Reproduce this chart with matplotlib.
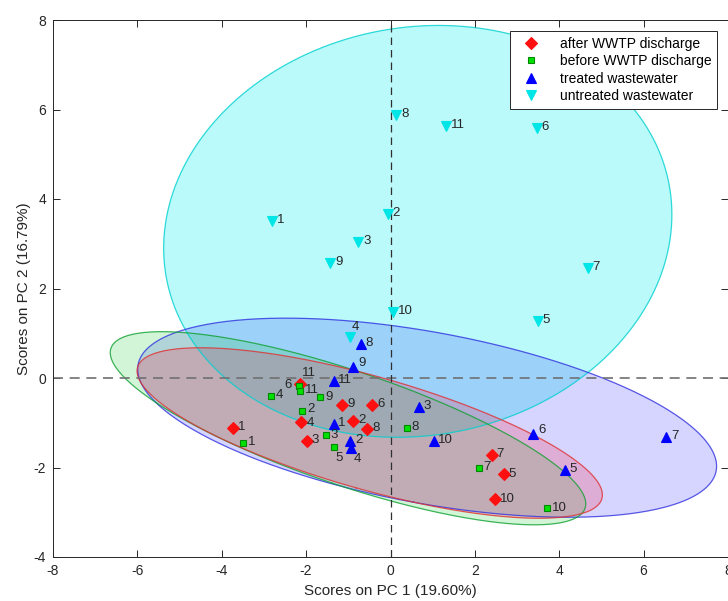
import numpy as np
import matplotlib
matplotlib.use("Agg")
import matplotlib.pyplot as plt

plt.rcParams['font.family'] = ['Liberation Sans', 'DejaVu Sans']

labels = ['1', '2', '3', '4', '5', '6', '7', '8', '9', '10', '11']

after_x = [-3.73, -0.88, -1.99, -2.11, 2.68, -0.43, 2.40, -0.55, -1.14, 2.47, -2.14]
after_y = [-1.12, -0.96, -1.41, -0.98, -2.15, -0.60, -1.72, -1.14, -0.60, -2.71, -0.13]

before_x = [-3.49, -2.09, -1.54, -2.83, -1.35, -2.16, 2.09, 0.38, -1.66, 3.71, -2.14]
before_y = [-1.45, -0.74, -1.28, -0.40, -1.54, -0.18, -2.01, -1.12, -0.43, -2.91, -0.29]

treated_x = [-1.35, -0.95, 0.67, -0.93, 4.13, 3.37, 6.53, -0.71, -0.88, 1.02, -1.35]
treated_y = [-1.03, -1.41, -0.65, -1.57, -2.06, -1.25, -1.32, 0.76, 0.25, -1.41, -0.07]

untreated_x = [-2.80, -0.07, -0.76, -0.97, 3.49, 3.47, 4.68, 0.14, -1.43, 0.05, 1.31]
untreated_y = [3.51, 3.67, 3.04, 0.92, 1.28, 5.59, 2.46, 5.88, 2.57, 1.48, 5.64]

group_names = ['after WWTP discharge', 'before WWTP discharge',
               'treated wastewater', 'untreated wastewater']

x_label = 'Scores on PC 1 (19.60%)'
y_label = 'Scores on PC 2 (16.79%)'
x_ticks = [-8, -6, -4, -2, 0, 2, 4, 6, 8]
y_ticks = [-4, -2, 0, 2, 4, 6, 8]

conf_k = 2.576  # 99% limit scaling

groups = [
    dict(x=after_x, y=after_y, name=group_names[0], marker='D', ms=6,
         face='#ff1010', edge='#ff1010', ecol='#e03030', fill='#ff2040', alpha=0.22),
    dict(x=before_x, y=before_y, name=group_names[1], marker='s', ms=5,
         face='#00e000', edge='#008800', ecol='#10a030', fill='#20d040', alpha=0.2),
    dict(x=treated_x, y=treated_y, name=group_names[2], marker='^', ms=7.5,
         face='#0000ff', edge='#0000ff', ecol='#3030e0', fill='#1818ff', alpha=0.18),
    dict(x=untreated_x, y=untreated_y, name=group_names[3], marker='v', ms=7.5,
         face='#00e5e5', edge='#00e5e5', ecol='#00d0d0', fill='#00f0f0', alpha=0.27),
]

# label offset exceptions (points), keyed by (group index, label)
default_off = (3.5, 0.5)
label_off = {
    (1, '5'): (1.0, -8.0),
    (2, '4'): (1.5, -8.0),
    (1, '6'): (-11.0, 0.5),
    (0, '11'): (1.5, 7.5),
    (3, '4'): (1.5, 7.0),
    (2, '9'): (3.5, 3.0),
    (2, '6'): (4.0, 3.0),
    (1, '2'): (3.5, 1.5),
    (0, '4'): (3.5, -0.8),
}

fig = plt.figure(figsize=(7.28, 6.01), dpi=100)
ax = fig.add_axes([53 / 728, 1 - 557 / 601, 675 / 728, 537 / 601])

t = np.linspace(0, 2 * np.pi, 400)
circle = np.vstack([np.cos(t), np.sin(t)])
# draw order for ellipses
for gi in [3, 2, 1, 0]:
    g = groups[gi]
    pts = np.vstack([g['x'], g['y']])
    mu = pts.mean(axis=1)
    cov = np.cov(pts)
    vals, vecs = np.linalg.eigh(cov)
    L = vecs @ np.diag(np.sqrt(vals)) * conf_k
    e = L @ circle + mu[:, None]
    ax.fill(e[0], e[1], color=g['fill'], alpha=g['alpha'], lw=0, zorder=1)
    ax.plot(e[0], e[1], color=g['ecol'], lw=0.9, alpha=0.8, zorder=1.5)

ax.axhline(0, color='#707070', ls=(0, (6, 4)), lw=1.2, zorder=2)
ax.axvline(0, color='#303030', ls=(0, (6, 4)), lw=0.9, zorder=2)

for gi, g in enumerate(groups):
    ax.plot(g['x'], g['y'], ls='none', marker=g['marker'], ms=g['ms'],
            mfc=g['face'], mec=g['edge'], mew=0.8, label=g['name'], zorder=4)
    for xi, yi, lab in zip(g['x'], g['y'], labels):
        off = label_off.get((gi, lab), default_off)
        ax.annotate(lab, (xi, yi), xytext=off, textcoords='offset points',
                    ha='left', va='center', fontsize=9.5, color='#262626', zorder=5)

ax.set_xlim(-8, 8)
ax.set_ylim(-4, 8)
ax.set_xticks(x_ticks)
ax.set_yticks(y_ticks)
ax.set_xticklabels([str(v) for v in x_ticks])
ax.set_yticklabels([str(v) for v in y_ticks])
ax.tick_params(direction='in', length=5, width=0.7, top=True, right=True,
               labelsize=10, colors='#262626', pad=5)
for s in ax.spines.values():
    s.set_color('#262626')
    s.set_linewidth(0.7)
ax.set_xlabel(x_label, fontsize=11, color='#262626', labelpad=4)
ax.set_ylabel(y_label, fontsize=11, color='#262626', labelpad=2)

leg = ax.legend(loc='upper right', bbox_to_anchor=(0.984, 0.9795), fontsize=10,
                frameon=True, fancybox=False, edgecolor='#262626', framealpha=1,
                borderpad=0.4, handletextpad=1.0, labelspacing=0.25,
                handlelength=2.2, borderaxespad=0)
leg.get_frame().set_linewidth(0.7)

fig.savefig('out.png', dpi=100)
